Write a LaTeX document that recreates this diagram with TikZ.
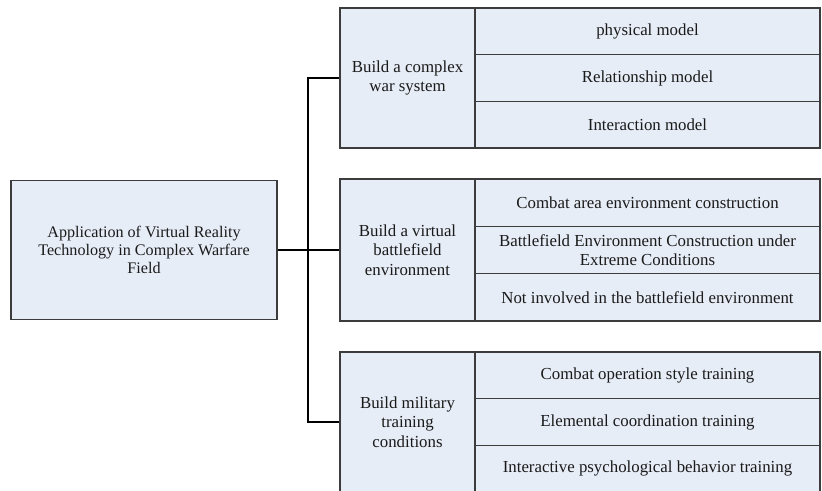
\documentclass[tikz,border=0pt]{standalone}
\usepackage{fontspec}
\setmainfont{Liberation Serif}
\definecolor{boxfill}{HTML}{E7EDF7}
\definecolor{boxline}{HTML}{3C3C3C}
\definecolor{txt}{HTML}{1A1A1A}
\begin{document}
\begin{tikzpicture}[x=1bp,y=-1bp,
  box/.style={draw=boxline,line width=1.1bp,fill=boxfill,inner sep=0pt,align=center,
    text=txt,font=\fontsize{16.9}{19.5}\selectfont},
  conn/.style={draw=black,line width=2bp}]
\useasboundingbox (0,0) rectangle (822,491);
% main box
\node[box,font=\fontsize{16.2}{18}\selectfont,minimum width=266bp,minimum height=139bp] (main) at (144,250)
  {Application of Virtual Reality\\Technology in Complex Warfare\\Field};
% group 1
\node[box,minimum width=135bp,minimum height=140bp] (g1) at (407.5,78) {Build a complex\\war system};
\node[box,minimum width=345bp,minimum height=46.67bp] (g1a) at (647.5,31.33) {physical model};
\node[box,minimum width=345bp,minimum height=46.67bp] (g1b) at (647.5,78) {Relationship model};
\node[box,minimum width=345bp,minimum height=46.67bp] (g1c) at (647.5,124.67) {Interaction model};
% group 2
\node[box,minimum width=135bp,minimum height=142bp] (g2) at (407.5,250) {Build a virtual\\battlefield\\environment};
\node[box,minimum width=345bp,minimum height=47.33bp] (g2a) at (647.5,202.67) {Combat area environment construction};
\node[box,minimum width=345bp,minimum height=47.33bp] (g2b) at (647.5,250) {Battlefield Environment Construction under\\Extreme Conditions};
\node[box,minimum width=345bp,minimum height=47.33bp] (g2c) at (647.5,297.33) {Not involved in the battlefield environment};
% group 3
\node[box,minimum width=135bp,minimum height=140bp] (g3) at (407.5,422) {Build military\\training\\conditions};
\node[box,minimum width=345bp,minimum height=46.67bp] (g3a) at (647.5,375.33) {Combat operation style training};
\node[box,minimum width=345bp,minimum height=46.67bp] (g3b) at (647.5,422) {Elemental coordination training};
\node[box,minimum width=345bp,minimum height=46.67bp] (g3c) at (647.5,468.67) {Interactive psychological behavior training};
% connectors
\coordinate (jn) at (308,250);
\draw[conn] (main.east) -- (g2.west);
\draw[conn] (g1.west) -| (jn) |- (g3.west);
\end{tikzpicture}
\end{document}
